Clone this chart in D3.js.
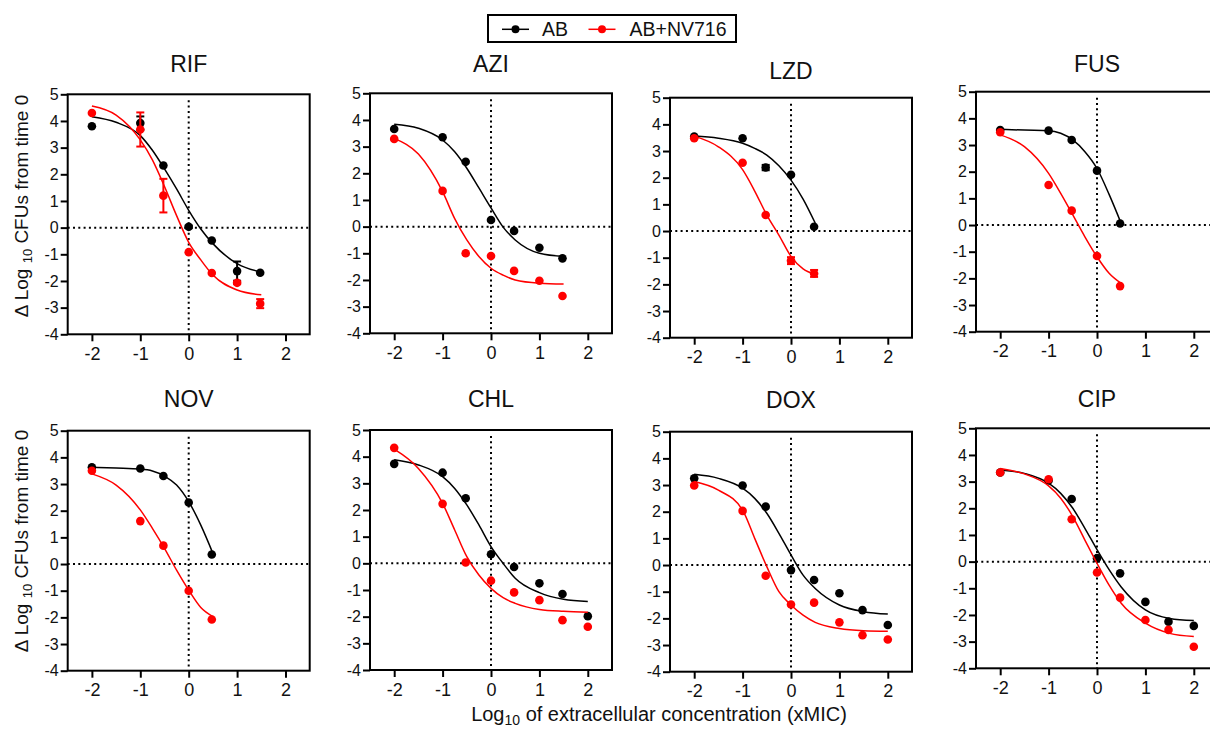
<!DOCTYPE html>
<html>
<head>
<meta charset="utf-8">
<script src="https://cdnjs.cloudflare.com/ajax/libs/d3/7.8.5/d3.min.js"></script>
<style>
  body { margin: 0; background: #fff; }
  svg { display: block; font-family: "Liberation Sans", Arial, sans-serif; }
  .frame { fill: none; stroke: #000; stroke-width: 2; }
  .zero { stroke: #000; stroke-width: 2; stroke-dasharray: 2 3.3; }
  .fit { fill: none; stroke-width: 1.5; }
  .err { stroke-width: 2; }
</style>
</head>
<body>
<svg id="chart" width="1210" height="729"></svg>
<script>
// ---- data ----
const drugs = ['RIF', 'AZI', 'LZD', 'FUS', 'NOV', 'CHL', 'DOX', 'CIP'];
const concLog = [-2, -1, -0.523, 0, 0.477, 1, 1.477, 2]; // log10 of 0.01..100 xMIC
const seriesNames = ['AB', 'AB+NV716'];
const xTicks = [-2, -1, 0, 1, 2];
const yTicks = [-4, -3, -2, -1, 0, 1, 2, 3, 4, 5];

// mean delta log10 CFU, AB alone
const abValues = [
  [3.8, 3.92, 2.33, 0.03, -0.48, -1.63, -1.69],
  [3.66, 3.35, 2.43, 0.25, -0.16, -0.79, -1.19],
  [3.54, 3.48, 2.38, 2.11, 0.16],
  [3.56, 3.54, 3.19, 2.04, 0.06],
  [3.63, 3.58, 3.3, 2.31, 0.36],
  [3.73, 3.4, 2.44, 0.34, -0.14, -0.75, -1.15, -1.98],
  [3.25, 2.98, 2.19, -0.19, -0.56, -1.06, -1.69, -2.25],
  [3.34, 3.04, 2.35, 0.13, -0.44, -1.51, -2.25, -2.41]
];
const abErrors = [
  [0, 0.25, 0, 0.05, 0, 0.36, 0],
  [], [0, 0, 0.1, 0, 0], [], [], [], [], []
];
// mean delta log10 CFU, AB + NV716
const nvValues = [
  [4.3, 3.68, 1.2, -0.92, -1.7, -2.07, -2.85],
  [3.29, 1.34, -1.0, -1.1, -1.66, -2.03, -2.6],
  [3.48, 2.56, 0.6, -1.11, -1.59],
  [3.48, 1.5, 0.54, -1.16, -2.29],
  [3.5, 1.61, 0.69, -1.0, -2.08],
  [4.33, 2.23, 0.03, -0.65, -1.09, -1.38, -2.13, -2.38],
  [2.98, 2.03, -0.4, -1.48, -1.41, -2.15, -2.63, -2.79],
  [3.34, 3.09, 1.59, -0.41, -1.35, -2.19, -2.56, -3.19]
];
const nvErrors = [
  [0, 0.64, 0.63, 0, 0, 0.05, 0.17],
  [], [0, 0, 0, 0.13, 0.13], [], [], [], [], []
];

// fitted curves, sampled at curveX
const curveX = [-2, -1.5, -1, -0.75, -0.5, -0.25, 0, 0.25, 0.5, 1, 1.5, 2];
const abCurves = [
  [4.16, 3.95, 3.45, 2.9, 2.2, 1.45, 0.65, -0.05, -0.6, -1.35, -1.67],
  [3.84, 3.69, 3.25, 2.81, 2.19, 1.45, 0.7, -0.02, -0.5, -1.0, -1.12],
  [3.56, 3.48, 3.29, 3.1, 2.85, 2.45, 1.91, 1.2, 0.3],
  [3.59, 3.56, 3.54, 3.44, 3.19, 2.75, 2.12, 1.15, 0.06],
  [3.63, 3.6, 3.56, 3.49, 3.3, 2.96, 2.34, 1.46, 0.4],
  [3.88, 3.69, 3.25, 2.81, 2.19, 1.44, 0.63, 0.0, -0.56, -1.1, -1.35, -1.43],
  [3.4, 3.25, 2.88, 2.5, 1.94, 1.19, 0.38, -0.38, -0.88, -1.5, -1.75, -1.84],
  [3.44, 3.31, 2.94, 2.56, 2.0, 1.25, 0.45, -0.3, -0.95, -1.81, -2.13, -2.21]
];
const nvCurves = [
  [4.56, 4.22, 3.29, 2.54, 1.54, 0.45, -0.55, -1.21, -1.78, -2.34, -2.52],
  [3.3, 2.72, 1.31, 0.3, -0.5, -1.12, -1.56, -1.82, -2.0, -2.12, -2.15],
  [3.56, 3.16, 2.3, 1.5, 0.6, -0.15, -0.95, -1.42, -1.62],
  [3.38, 2.94, 1.94, 1.19, 0.38, -0.44, -1.19, -1.81, -2.19],
  [3.38, 2.96, 2.03, 1.34, 0.59, -0.23, -0.98, -1.63, -1.97],
  [4.28, 3.56, 2.25, 1.25, 0.25, -0.44, -0.94, -1.29, -1.5, -1.73, -1.8, -1.83],
  [3.13, 2.81, 2.06, 1.0, -0.06, -1.0, -1.5, -1.88, -2.15, -2.38, -2.46, -2.48],
  [3.49, 3.29, 2.84, 2.38, 1.69, 0.81, -0.06, -0.88, -1.56, -2.31, -2.69, -2.81]
];

// ---- layout ----
const FONT = '"Liberation Sans", Arial, sans-serif';
const COLORS = ['#000000', '#ff0000'];
const W = 242;
const H = 240;
const DOT_R = 4.3;
const panels = [
  { left: 67.7, top: 94.3, titleY: 71.7 },
  { left: 370, top: 93.3, titleY: 71.7 },
  { left: 670, top: 97.7, titleY: 79.3 },
  { left: 976, top: 91.7, titleY: 71.7 },
  { left: 67.7, top: 430.7, titleY: 407.3 },
  { left: 370, top: 430, titleY: 407.3 },
  { left: 670, top: 431.7, titleY: 408.3 },
  { left: 976, top: 428.3, titleY: 407.3 }
];

const $svg = d3.select('#chart');

function drawPanel(i) {
    const p = panels[i];
    const x = d3.scaleLinear().domain([-2.5, 2.5]).range([0, W]);
    const y = d3.scaleLinear().domain([-4, 5]).range([H, 0]);

    const g = $svg.append('g')
        .attr('transform', `translate(${p.left},${p.top})`);

    // title
    $svg.append('text')
        .attr('x', p.left + x(0))
        .attr('y', p.titleY)
        .attr('text-anchor', 'middle')
        .attr('font-size', 23)
        .attr('fill', '#111')
        .text(drugs[i]);

    // dotted zero lines
    g.append('line').attr('class', 'zero')
        .attr('x1', 0).attr('x2', W)
        .attr('y1', y(0)).attr('y2', y(0));
    g.append('line').attr('class', 'zero')
        .attr('x1', x(0)).attr('x2', x(0))
        .attr('y1', 6).attr('y2', H);

    g.append('rect').attr('class', 'frame')
        .attr('width', W).attr('height', H);

    // x-axis
    g.append('g')
        .attr('transform', `translate(0,${H})`)
        .call(d3.axisBottom(x).tickValues(xTicks).tickSize(7).tickPadding(6).tickFormat(d => String(d)))
        .call(a => a.select('.domain').remove())
        .call(a => a.selectAll('line').attr('stroke', '#000').attr('stroke-width', 2))
        .call(a => a.selectAll('text').attr('fill', '#111'))
        .attr('font-size', 18).attr('font-family', FONT);

    // y-axis
    g.append('g')
        .call(d3.axisLeft(y).tickValues(yTicks).tickSize(7).tickPadding(2).tickFormat(d => String(d)))
        .call(a => a.select('.domain').remove())
        .call(a => a.selectAll('line').attr('stroke', '#000').attr('stroke-width', 2))
        .call(a => a.selectAll('text').attr('fill', '#111'))
        .attr('font-size', 16).attr('font-family', FONT);

    const line = d3.line()
        .x((d, j) => x(curveX[j]))
        .y(d => y(d))
        .curve(d3.curveMonotoneX);

    const series = [
        { vals: abValues[i], errs: abErrors[i], curve: abCurves[i], color: COLORS[0] },
        { vals: nvValues[i], errs: nvErrors[i], curve: nvCurves[i], color: COLORS[1] }
    ];

    series.forEach(s => {
        g.append('path').attr('class', 'fit')
            .attr('stroke', s.color)
            .attr('d', line(s.curve));

        const pts = s.vals.map((v, j) => ({ x: concLog[j], y: v, e: s.errs[j] || 0 }));

        const eb = g.append('g').attr('stroke', s.color).attr('class', 'err');
        pts.filter(d => d.e > 0).forEach(d => {
            eb.append('line')
                .attr('x1', x(d.x)).attr('x2', x(d.x))
                .attr('y1', y(d.y - d.e)).attr('y2', y(d.y + d.e));
            [d.y - d.e, d.y + d.e].forEach(v => {
                eb.append('line')
                    .attr('x1', x(d.x) - 4).attr('x2', x(d.x) + 4)
                    .attr('y1', y(v)).attr('y2', y(v));
            });
        });

        g.selectAll(null)
            .data(pts)
            .enter().append('circle')
            .attr('cx', d => x(d.x))
            .attr('cy', d => y(d.y))
            .attr('r', DOT_R)
            .attr('fill', s.color);
    });
}

function drawLabels() {
    // y labels, one per row
    [206, 541].forEach(cy => {
        const t = $svg.append('text')
            .attr('transform', `translate(28,${cy}) rotate(-90)`)
            .attr('text-anchor', 'middle')
            .attr('font-size', 19)
            .attr('fill', '#111');
        t.append('tspan').text('\u0394 Log ');
        t.append('tspan').attr('font-size', 13).attr('dy', 4).text('10');
        t.append('tspan').attr('dy', -4).text(' CFUs from time 0');
    });

    // x label
    const xl = $svg.append('text')
        .attr('x', 659)
        .attr('y', 721)
        .attr('text-anchor', 'middle')
        .attr('font-size', 20)
        .attr('fill', '#111');
    xl.append('tspan').text('Log');
    xl.append('tspan').attr('font-size', 14).attr('dy', 4).text('10');
    xl.append('tspan').attr('dy', -4).text(' of extracellular concentration (xMIC)');
}

function drawLegend() {
    const lg = $svg.append('g');
    lg.append('rect')
        .attr('x', 488).attr('y', 15)
        .attr('width', 248).attr('height', 27)
        .attr('fill', '#fff').attr('stroke', '#000').attr('stroke-width', 2);

    const items = [{ x: 502, tx: 542 }, { x: 588.5, tx: 629.5 }];
    seriesNames.forEach((name, i) => {
        const it = items[i];
        lg.append('line')
            .attr('x1', it.x).attr('x2', it.x + 27)
            .attr('y1', 29.3).attr('y2', 29.3)
            .attr('stroke', COLORS[i]).attr('stroke-width', 1.5);
        lg.append('circle')
            .attr('cx', it.x + 13.5).attr('cy', 29.3)
            .attr('r', 4).attr('fill', COLORS[i]);
        lg.append('text')
            .attr('x', it.tx).attr('y', 36.3)
            .attr('font-size', 19.5)
            .attr('fill', '#111')
            .text(name);
    });
}

drugs.forEach((d, i) => drawPanel(i));
drawLabels();
drawLegend();
</script>
</body>
</html>
